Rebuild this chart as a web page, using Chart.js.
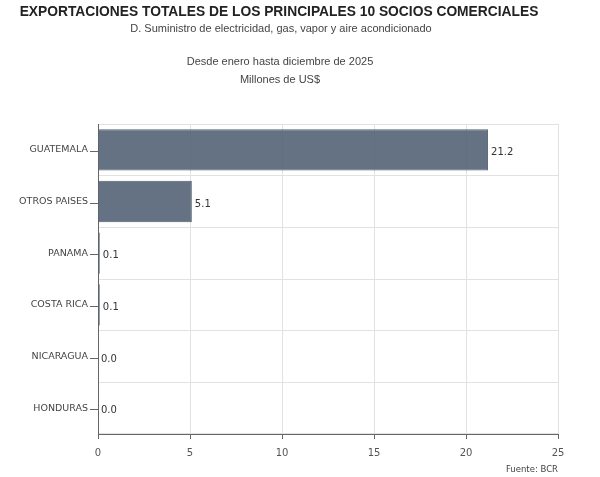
<!DOCTYPE html>
<html>
<head>
<meta charset="utf-8">
<script src="https://cdn.jsdelivr.net/npm/chart.js@4"></script>
<style>
  html, body { margin: 0; padding: 0; background: #fff; }
  #wrap { position: relative; width: 600px; height: 477px; }
</style>
</head>
<body>
<div id="wrap"><canvas id="sociosChart"></canvas></div>
<script>
// DATA
const socios = ['GUATEMALA', 'OTROS PAISES', 'PANAMA', 'COSTA RICA', 'NICARAGUA', 'HONDURAS'];
const exportaciones = [21.2, 5.1, 0.1, 0.1, 0.0, 0.0];
const xTicks = [0, 5, 10, 15, 20, 25];

const titulo = 'EXPORTACIONES TOTALES DE LOS PRINCIPALES 10 SOCIOS COMERCIALES';
const subtitulos = [
    'D. Suministro de electricidad, gas, vapor y aire acondicionado',
    'Desde enero hasta diciembre de 2025',
    'Millones de US$'
];
const fuente = 'Fuente: BCR';

// header, labels on bars, y tick marks
const extras = {
    id: 'extras',
    afterDraw(chart) {
        const c = chart.ctx;
        c.save();
        c.textAlign = 'center';
        c.textBaseline = 'middle';
        c.fillStyle = '#222';
        c.font = 'bold 13.8px "Liberation Sans", Arial, sans-serif';
        c.fillText(titulo, 279, 12);
        c.fillStyle = '#444';
        c.font = '11px "Liberation Sans", Arial, sans-serif';
        c.fillText(subtitulos[0], 281, 29);
        c.fillText(subtitulos[1], 280, 62);
        c.fillText(subtitulos[2], 280, 80);

        c.font = '8.5px "DejaVu Sans", Verdana, sans-serif';
        c.textAlign = 'right';
        c.fillStyle = '#444';
        c.fillText(fuente, 558, 470);

        // value labels
        const meta = chart.getDatasetMeta(0);
        c.font = '10px "DejaVu Sans", Verdana, sans-serif';
        c.textAlign = 'left';
        c.fillStyle = '#333';
        meta.data.forEach((bar, i) => {
            c.fillText(exportaciones[i].toFixed(1), bar.x + 3, bar.y + 2.5);
        });

        // y tick marks at category centres
        const y = chart.scales.y;
        c.strokeStyle = '#666';
        c.lineWidth = 1;
        socios.forEach((s, i) => {
            const py = Math.round(y.getPixelForTick(i)) + 1.5;
            c.beginPath();
            c.moveTo(y.right - 8, py);
            c.lineTo(y.right, py);
            c.stroke();
        });
        c.restore();
    }
};

new Chart(document.getElementById('sociosChart'), {
    type: 'bar',
    data: {
        labels: socios,
        datasets: [{
            data: exportaciones,
            backgroundColor: 'rgba(80,94,114,0.88)',
            borderColor: 'rgba(70,82,100,0.9)',
            borderWidth: 1,
            barPercentage: 1,
            categoryPercentage: 0.8
        }]
    },
    options: {
        indexAxis: 'y',
        responsive: true,
        maintainAspectRatio: false,
        animation: false,
        layout: {
            padding: { top: 124, right: 42, left: 0, bottom: 0 }
        },
        plugins: {
            legend: { display: false },
            tooltip: { enabled: false },
            title: { display: false }
        },
        scales: {
            x: {
                min: 0,
                max: 25,
                afterBuildTicks(scale) {
                    scale.ticks = xTicks.map(v => ({ value: v }));
                },
                afterFit(scale) { scale.height = 43; },
                grid: {
                    color: '#e2e2e2',
                    tickColor: '#666',
                    tickLength: 5,
                    drawTicks: true
                },
                border: { color: '#666', width: 1 },
                ticks: {
                    color: '#555',
                    padding: 8,
                    font: { family: '"DejaVu Sans", Verdana, sans-serif', size: 10 }
                }
            },
            y: {
                afterFit(scale) { scale.width = 98; },
                grid: {
                    color: '#e2e2e2',
                    offset: true,
                    drawTicks: false
                },
                border: { color: '#666', width: 1 },
                ticks: {
                    color: '#444',
                    padding: 10,
                    font: { family: '"DejaVu Sans", Verdana, sans-serif', size: 9.5 }
                }
            }
        }
    },
    plugins: [extras]
});
</script>
</body>
</html>
